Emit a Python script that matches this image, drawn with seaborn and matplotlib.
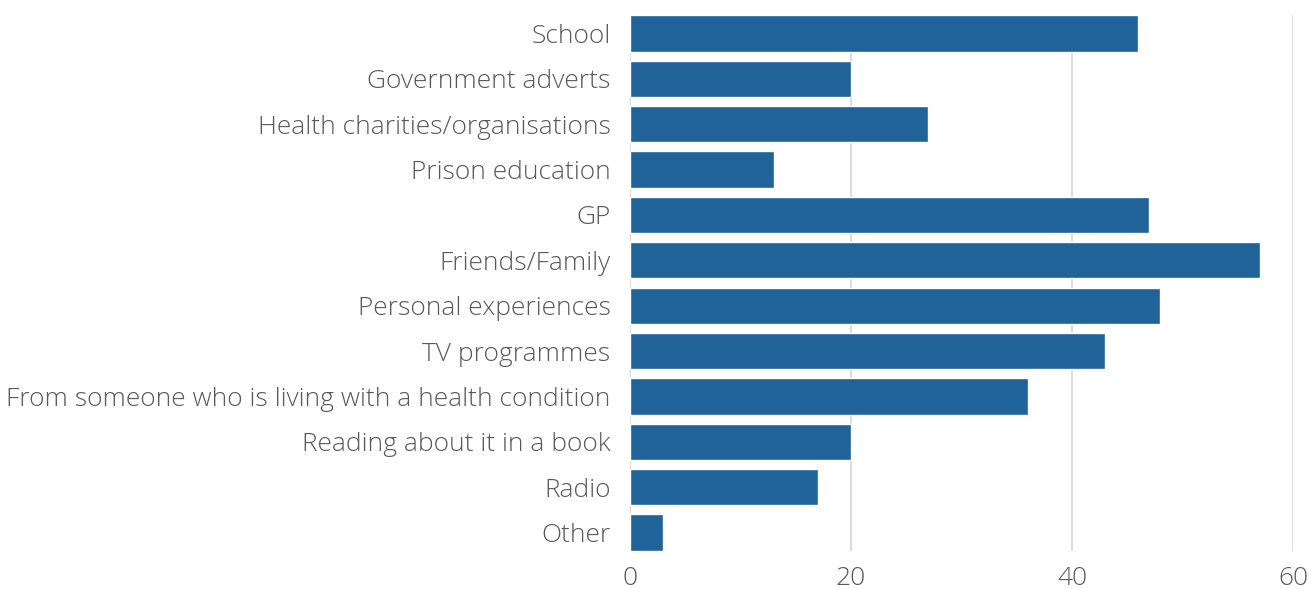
import matplotlib
matplotlib.use("Agg")
import matplotlib.pyplot as plt
import seaborn as sns
import pandas as pd

categories = [
    "School",
    "Government adverts",
    "Health charities/organisations",
    "Prison education",
    "GP",
    "Friends/Family",
    "Personal experiences",
    "TV programmes",
    "From someone who is living with a health condition",
    "Reading about it in a book",
    "Radio",
    "Other",
]
values = [46, 20, 27, 13, 47, 57, 48, 43, 36, 20, 17, 3]
x_ticks = [0, 20, 40, 60]

df = pd.DataFrame({"source": categories, "count": values})

sns.set_theme(style="white")
plt.rcParams["font.family"] = ["Open Sans", "DejaVu Sans"]

fig = plt.figure(figsize=(13.14, 5.89), dpi=100)
ax = fig.add_axes([630 / 1314, 38 / 589, 663 / 1314, 536 / 589])

sns.barplot(data=df, x="count", y="source", color="#1F6399", saturation=1,
            width=0.8, ax=ax, zorder=3)

ax.set_xlim(0, 60)
ax.set_ylim(len(categories) - 1 + 0.41, -0.41)
ax.set_xticks(x_ticks)
ax.grid(axis="x", color="#D9D9D9", linewidth=1.3, zorder=0)
ax.set_xlabel("")
ax.set_ylabel("")
for s in ax.spines.values():
    s.set_visible(False)
ax.tick_params(axis="both", length=0, labelsize=19, labelcolor="#595959")
ax.tick_params(axis="y", pad=14)
ax.tick_params(axis="x", pad=11)
for lbl in ax.get_xticklabels() + ax.get_yticklabels():
    lbl.set_fontweight("light")

fig.savefig("out.png", dpi=100)
